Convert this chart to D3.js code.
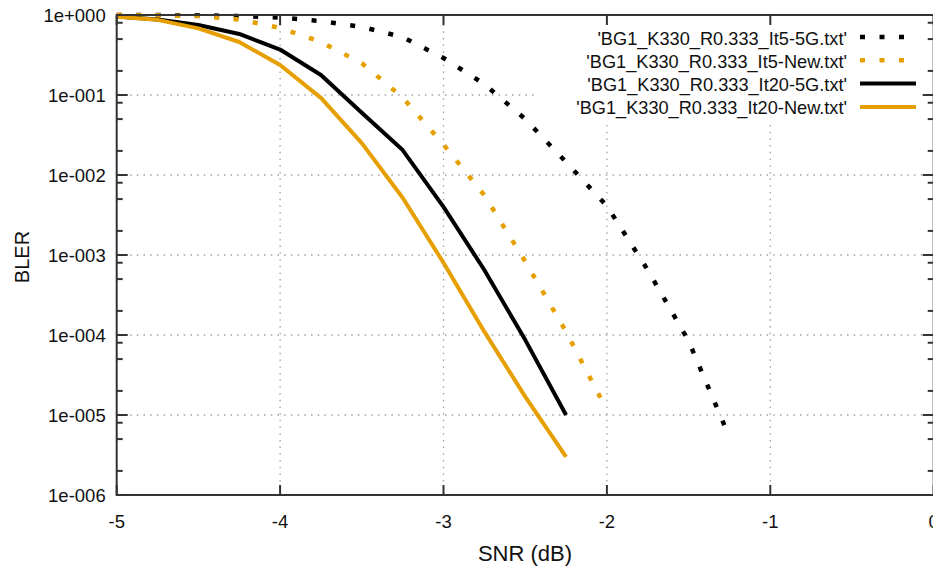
<!DOCTYPE html>
<html>
<head>
<meta charset="utf-8">
<script src="https://cdn.jsdelivr.net/npm/d3@7"></script>
<style>
  body { margin: 0; background: #fff; }
  text { font-family: "Liberation Sans", Arial, sans-serif; fill: #111; }
</style>
</head>
<body>
<svg id="chart" width="933" height="569"></svg>
<script>
// SNR steps (dB), shared by all curves
const snr = [-5, -4.75, -4.5, -4.25, -4, -3.75, -3.5, -3.25, -3, -2.75, -2.5, -2.25, -2, -1.75, -1.5, -1.25];

const it5_5G   = [1, 1, 0.99, 0.97, 0.93, 0.84, 0.71, 0.53, 0.29, 0.137, 0.05, 0.0145, 0.0041, 6.5e-4, 8.4e-5, 5.3e-6];
const it5_New  = [1, 0.99, 0.97, 0.88, 0.69, 0.46, 0.25, 0.093, 0.024, 0.0056, 8.3e-4, 1.1e-4, 1.15e-5];
const it20_5G  = [0.96, 0.88, 0.75, 0.58, 0.37, 0.178, 0.06, 0.0205, 0.004, 6.5e-4, 8.7e-5, 1e-5];
const it20_New = [0.95, 0.87, 0.68, 0.46, 0.237, 0.092, 0.025, 0.0052, 8e-4, 1.1e-4, 1.7e-5, 3e-6];

const seriesNames = [
  "'BG1_K330_R0.333_It5-5G.txt'",
  "'BG1_K330_R0.333_It5-New.txt'",
  "'BG1_K330_R0.333_It20-5G.txt'",
  "'BG1_K330_R0.333_It20-New.txt'"
];
const xTicks = [-5, -4, -3, -2, -1, 0];
const yTicks = [1, 1e-1, 1e-2, 1e-3, 1e-4, 1e-5, 1e-6];

const orange = "#e69f00";
const series = [
  {name: seriesNames[0], values: it5_5G,   color: "#000", dash: "5,14.5"},
  {name: seriesNames[1], values: it5_New,  color: orange, dash: "5,14.5"},
  {name: seriesNames[2], values: it20_5G,  color: "#000", dash: null},
  {name: seriesNames[3], values: it20_New, color: orange, dash: null}
];

const svg = d3.select("#chart");
const pl = 116.7, pr = 933.7, pt = 15, pb = 495;

const x = d3.scaleLinear().domain([-5, 0]).range([pl, pr]);
const y = d3.scaleLog().domain([1e-6, 1]).range([pb, pt]);

const fmtExp = v => {
  const e = Math.round(Math.log10(v));
  return "1e" + (e < 0 ? "-" : "+") + String(Math.abs(e)).padStart(3, "0");
};

// grid
const grid = svg.append("g")
  .attr("stroke", "#a0a0a0").attr("stroke-width", 1.3).attr("stroke-dasharray", "1.5,5.2");
xTicks.filter(d => d > -5 && d < 0).forEach(d => {
  grid.append("line").attr("x1", x(d)).attr("x2", x(d)).attr("y1", pb).attr("y2", pt);
});
yTicks.filter(d => d < 1 && d > 1e-6).forEach(d => {
  grid.append("line").attr("x1", pl).attr("x2", pr).attr("y1", y(d)).attr("y2", y(d));
});

// opaque key box
svg.append("rect").attr("x", 535).attr("y", pt + 1).attr("width", 400).attr("height", 105).attr("fill", "#fff");

// curves
const line = d3.line().x(d => x(d[0])).y(d => y(d[1]));
series.forEach(s => {
  const pts = s.values.map((v, i) => [snr[i], v]);
  svg.append("path").datum(pts)
    .attr("d", line)
    .attr("fill", "none")
    .attr("stroke", s.color)
    .attr("stroke-width", s.dash ? 4.5 : 4)
    .attr("stroke-linejoin", "round")
    .attr("stroke-dasharray", s.dash);
});

// frame + ticks
const axisColor = "#333";
const frame = svg.append("g").attr("stroke", axisColor);
frame.append("rect").attr("x", pl).attr("y", pt).attr("width", pr - pl).attr("height", pb - pt)
  .attr("fill", "none").attr("stroke-width", 2);

const minor = [];
for (let e = -6; e < 0; e++) [2, 5, 8].forEach(m => minor.push(m * Math.pow(10, e)));

yTicks.forEach(d => {
  frame.append("line").attr("x1", pl).attr("x2", pl + 11).attr("y1", y(d)).attr("y2", y(d)).attr("stroke-width", 2);
  frame.append("line").attr("x1", pr).attr("x2", pr - 11).attr("y1", y(d)).attr("y2", y(d)).attr("stroke-width", 2);
});
minor.forEach(d => {
  frame.append("line").attr("x1", pl).attr("x2", pl + 6).attr("y1", y(d)).attr("y2", y(d)).attr("stroke-width", 2);
  frame.append("line").attr("x1", pr).attr("x2", pr - 6).attr("y1", y(d)).attr("y2", y(d)).attr("stroke-width", 2);
});
xTicks.forEach(d => {
  frame.append("line").attr("x1", x(d)).attr("x2", x(d)).attr("y1", pb).attr("y2", pb - 10).attr("stroke-width", 2);
  frame.append("line").attr("x1", x(d)).attr("x2", x(d)).attr("y1", pt).attr("y2", pt + 10).attr("stroke-width", 2);
});

// tick labels
svg.append("g").selectAll("text").data(yTicks).join("text")
  .attr("x", pl - 11).attr("y", d => y(d))
  .attr("text-anchor", "end").attr("dominant-baseline", "central")
  .style("font-size", "18.5px")
  .text(fmtExp);

svg.append("g").selectAll("text").data(xTicks).join("text")
  .attr("x", d => x(d)).attr("y", 521)
  .attr("text-anchor", "middle").attr("dominant-baseline", "central")
  .style("font-size", "18.5px")
  .text(d => d);

// axis titles
svg.append("text").attr("x", 525).attr("y", 553)
  .attr("text-anchor", "middle").attr("dominant-baseline", "central")
  .style("font-size", "22px").text("SNR (dB)");
svg.append("text")
  .attr("transform", "translate(22,257) rotate(-90)")
  .attr("text-anchor", "middle").attr("dominant-baseline", "central")
  .style("font-size", "20px").text("BLER");

// key
const key = svg.append("g");
series.forEach((s, i) => {
  const yy = 37 + i * 23.3;
  key.append("text").attr("x", 847).attr("y", yy + 1.5)
    .attr("text-anchor", "end").attr("dominant-baseline", "central")
    .style("font-size", "18.2px").text(s.name);
  key.append("line").attr("x1", 860).attr("x2", 916).attr("y1", yy).attr("y2", yy)
    .attr("stroke", s.color).attr("stroke-width", s.dash ? 4.5 : 4)
    .attr("stroke-dasharray", s.dash);
});
</script>
</body>
</html>
